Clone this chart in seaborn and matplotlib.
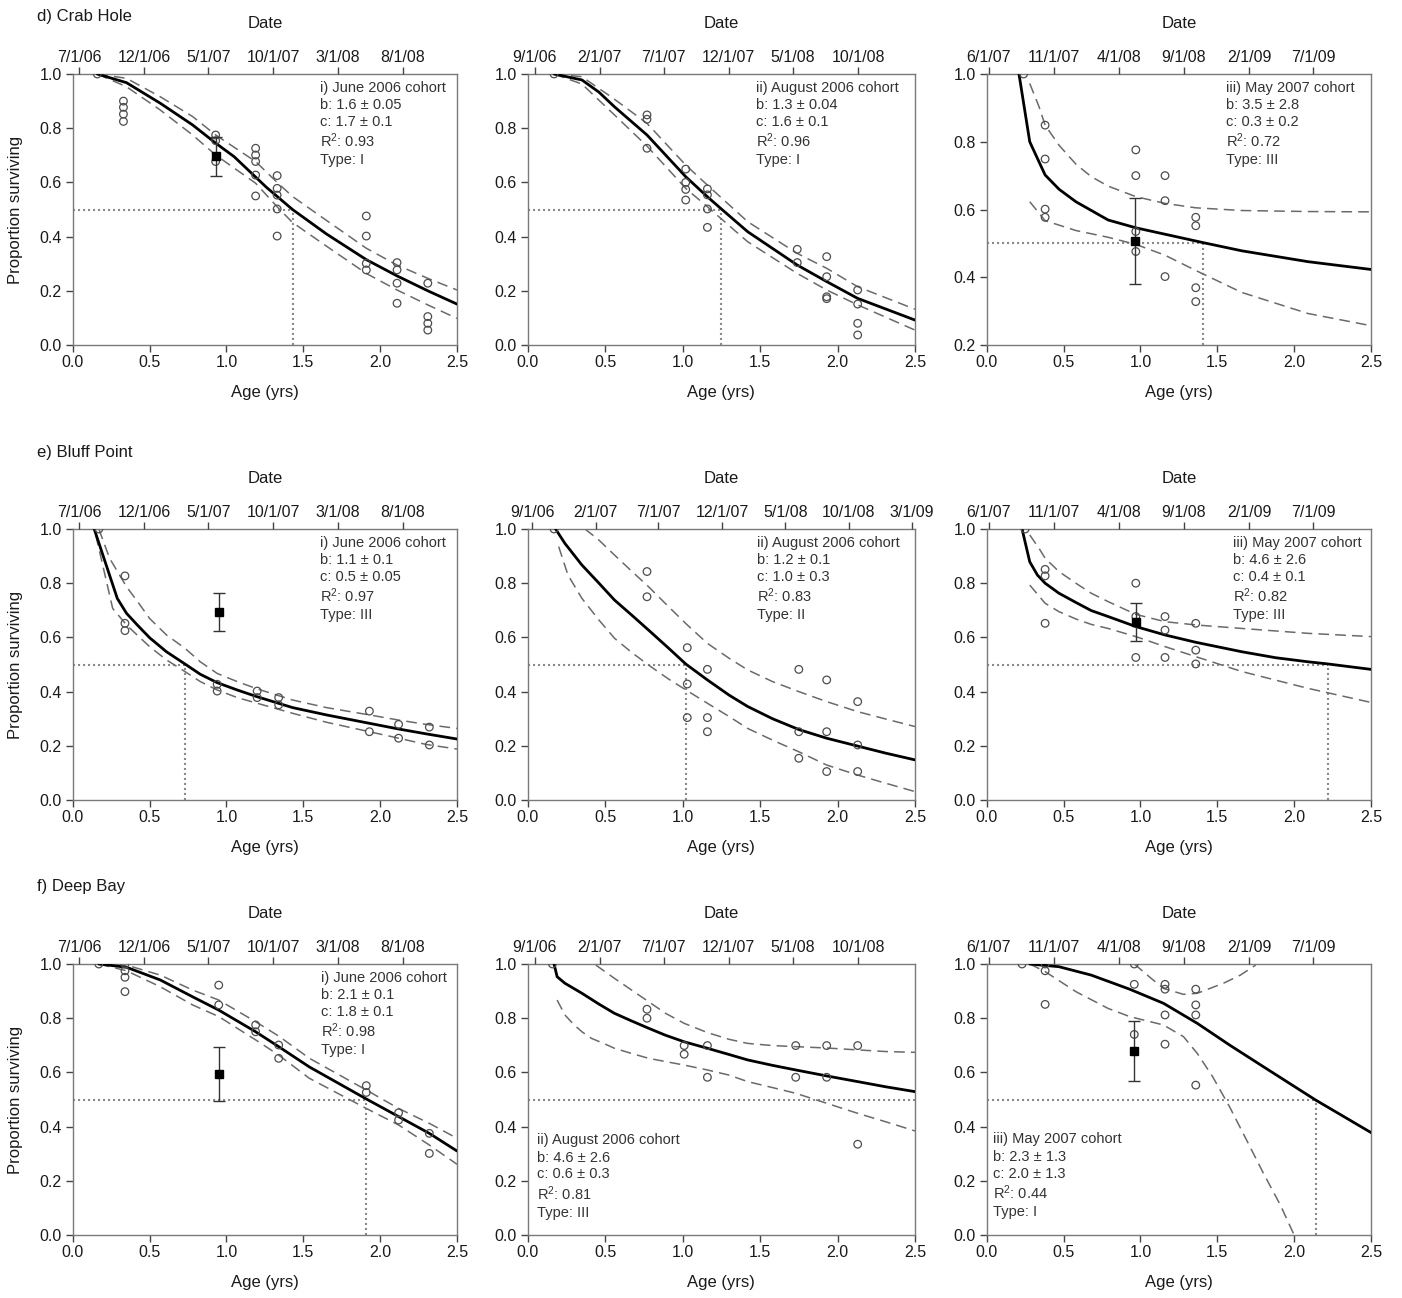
import pandas as pd
import matplotlib
matplotlib.use("Agg")
import matplotlib.pyplot as plt
import matplotlib.dates as mdates
import seaborn as sns

# ---------------- data ----------------
# d) Crab Hole -- i) June 2006 cohort
d1_obs_age = [0.16, 0.33, 0.33, 0.33, 0.33, 0.93, 0.93, 0.93, 1.19, 1.19, 1.19, 1.19, 1.19,
              1.33, 1.33, 1.33, 1.33, 1.33, 1.91, 1.91, 1.91, 1.91, 2.11, 2.11, 2.11, 2.11,
              2.31, 2.31, 2.31, 2.31]
d1_obs_surv = [1.0, 0.90, 0.877, 0.852, 0.825, 0.775, 0.754, 0.677, 0.726, 0.701, 0.677, 0.627, 0.55,
               0.625, 0.578, 0.553, 0.502, 0.402, 0.476, 0.402, 0.301, 0.277, 0.304, 0.277, 0.228, 0.154,
               0.228, 0.105, 0.08, 0.055]
d1_fit_age = [0.16, 0.35, 0.57, 0.78, 0.93, 1.05, 1.26, 1.43, 1.65, 1.91, 2.11, 2.31, 2.5]
d1_fit_surv = [1.0, 0.968, 0.892, 0.812, 0.745, 0.695, 0.582, 0.50, 0.41, 0.315, 0.255, 0.20, 0.151]
d1_ci_age = [0.16, 0.35, 0.57, 0.78, 0.93, 1.19, 1.33, 1.43, 1.65, 1.91, 2.11, 2.31, 2.5]
d1_hi_surv = [1.0, 0.984, 0.916, 0.843, 0.775, 0.677, 0.60, 0.548, 0.46, 0.357, 0.295, 0.246, 0.203]
d1_lo_surv = [1.0, 0.953, 0.867, 0.775, 0.701, 0.597, 0.51, 0.452, 0.365, 0.264, 0.203, 0.148, 0.098]
d1_mean = (0.93, 0.697, 0.072)
d1_half = 1.43
d1_note = ["i) June 2006 cohort", "b: 1.6 ± 0.05", "c: 1.7 ± 0.1", "R$^2$: 0.93", "Type: I"]

# d) Crab Hole -- ii) August 2006 cohort
d2_obs_age = [0.17, 0.77, 0.77, 0.77, 1.02, 1.02, 1.02, 1.02, 1.16, 1.16, 1.16, 1.16,
              1.74, 1.74, 1.93, 1.93, 1.93, 1.93, 2.13, 2.13, 2.13, 2.13]
d2_obs_surv = [1.0, 0.849, 0.833, 0.726, 0.649, 0.60, 0.574, 0.535, 0.576, 0.554, 0.502, 0.434,
               0.353, 0.304, 0.326, 0.252, 0.178, 0.171, 0.203, 0.151, 0.08, 0.037]
d2_fit_age = [0.17, 0.35, 0.46, 0.56, 0.77, 1.02, 1.16, 1.25, 1.42, 1.74, 1.93, 2.13, 2.5]
d2_fit_surv = [1.0, 0.978, 0.933, 0.879, 0.775, 0.621, 0.547, 0.502, 0.418, 0.295, 0.234, 0.172, 0.092]
d2_ci_age = [0.17, 0.35, 0.56, 0.77, 1.02, 1.16, 1.42, 1.74, 1.93, 2.13, 2.5]
d2_hi_surv = [1.0, 0.99, 0.907, 0.818, 0.664, 0.59, 0.455, 0.338, 0.283, 0.215, 0.132]
d2_lo_surv = [1.0, 0.963, 0.849, 0.734, 0.578, 0.51, 0.381, 0.264, 0.203, 0.148, 0.055]
d2_half = 1.25
d2_note = ["ii) August 2006 cohort", "b: 1.3 ± 0.04", "c: 1.6 ± 0.1", "R$^2$: 0.96", "Type: I"]

# d) Crab Hole -- iii) May 2007 cohort
d3_obs_age = [0.24, 0.38, 0.38, 0.38, 0.38, 0.97, 0.97, 0.97, 0.97, 1.16, 1.16, 1.16,
              1.36, 1.36, 1.36, 1.36]
d3_obs_surv = [1.0, 0.849, 0.749, 0.601, 0.577, 0.776, 0.70, 0.535, 0.476, 0.70, 0.626, 0.402,
               0.577, 0.552, 0.369, 0.328]
d3_fit_age = [0.21, 0.28, 0.34, 0.38, 0.47, 0.58, 0.79, 0.97, 1.16, 1.41, 1.66, 2.09, 2.5]
d3_fit_surv = [1.0, 0.80, 0.741, 0.702, 0.66, 0.623, 0.569, 0.546, 0.527, 0.502, 0.478, 0.446, 0.423]
d3_hi_age = [0.28, 0.34, 0.38, 0.47, 0.58, 0.68, 0.79, 0.97, 1.16, 1.36, 1.66, 2.09, 2.5]
d3_hi_surv = [0.972, 0.904, 0.849, 0.79, 0.734, 0.697, 0.669, 0.638, 0.618, 0.605, 0.597, 0.594, 0.593]
d3_lo_age = [0.28, 0.38, 0.58, 0.79, 0.97, 1.16, 1.36, 1.66, 2.09, 2.5]
d3_lo_surv = [0.623, 0.567, 0.538, 0.518, 0.497, 0.465, 0.42, 0.355, 0.293, 0.257]
d3_mean = (0.965, 0.507, 0.126)
d3_half = 1.41
d3_note = ["iii) May 2007 cohort", "b: 3.5 ± 2.8", "c: 0.3 ± 0.2", "R$^2$: 0.72", "Type: III"]

# e) Bluff Point -- i) June 2006 cohort
e1_obs_age = [0.17, 0.34, 0.34, 0.34, 0.94, 0.94, 1.2, 1.2, 1.34, 1.34, 1.93, 1.93, 2.12, 2.12, 2.32, 2.32]
e1_obs_surv = [1.0, 0.827, 0.652, 0.625, 0.427, 0.402, 0.402, 0.378, 0.378, 0.351, 0.328, 0.252,
               0.279, 0.228, 0.269, 0.203]
e1_fit_age = [0.14, 0.29, 0.35, 0.42, 0.5, 0.61, 0.73, 0.83, 0.94, 1.07, 1.2, 1.43, 1.65, 1.93, 2.12, 2.3, 2.5]
e1_fit_surv = [1.0, 0.744, 0.689, 0.646, 0.599, 0.547, 0.502, 0.464, 0.433, 0.406, 0.381, 0.341, 0.314,
               0.283, 0.262, 0.244, 0.225]
e1_hi_age = [0.17, 0.24, 0.35, 0.43, 0.5, 0.61, 0.73, 0.83, 0.94, 1.07, 1.2, 1.43, 1.65, 1.93, 2.12, 2.3, 2.5]
e1_hi_surv = [1.0, 0.892, 0.787, 0.726, 0.67, 0.609, 0.56, 0.51, 0.467, 0.437, 0.41, 0.369, 0.341, 0.314,
              0.295, 0.279, 0.264]
e1_lo_age = [0.15, 0.26, 0.35, 0.43, 0.5, 0.61, 0.73, 0.83, 0.94, 1.07, 1.2, 1.43, 1.65, 1.93, 2.12, 2.3, 2.5]
e1_lo_surv = [0.978, 0.707, 0.646, 0.603, 0.566, 0.517, 0.474, 0.437, 0.406, 0.378, 0.357, 0.32, 0.287,
              0.252, 0.228, 0.205, 0.188]
e1_mean = (0.95, 0.695, 0.07)
e1_half = 0.73
e1_note = ["i) June 2006 cohort", "b: 1.1 ± 0.1", "c: 0.5 ± 0.05", "R$^2$: 0.97", "Type: III"]

# e) Bluff Point -- ii) August 2006 cohort
e2_obs_age = [0.17, 0.77, 0.77, 1.03, 1.03, 1.03, 1.16, 1.16, 1.16, 1.75, 1.75, 1.75,
              1.93, 1.93, 1.93, 2.13, 2.13, 2.13]
e2_obs_surv = [1.0, 0.843, 0.75, 0.562, 0.428, 0.304, 0.482, 0.304, 0.252, 0.482, 0.252, 0.154,
               0.443, 0.252, 0.105, 0.363, 0.203, 0.105]
e2_fit_age = [0.18, 0.24, 0.35, 0.46, 0.56, 0.67, 0.78, 0.91, 1.02, 1.16, 1.3, 1.42, 1.58, 1.75, 1.93,
              2.13, 2.31, 2.5]
e2_fit_surv = [1.0, 0.947, 0.867, 0.80, 0.738, 0.683, 0.627, 0.56, 0.502, 0.443, 0.387, 0.345, 0.30,
               0.26, 0.228, 0.199, 0.173, 0.148]
e2_hi_age = [0.37, 0.46, 0.56, 0.67, 0.78, 0.91, 1.03, 1.16, 1.3, 1.42, 1.58, 1.75, 1.93, 2.13, 2.31, 2.5]
e2_hi_surv = [1.0, 0.959, 0.904, 0.845, 0.787, 0.713, 0.646, 0.578, 0.523, 0.48, 0.437, 0.40, 0.363,
              0.326, 0.299, 0.271]
e2_lo_age = [0.2, 0.26, 0.35, 0.46, 0.56, 0.67, 0.78, 0.91, 1.03, 1.16, 1.3, 1.42, 1.58, 1.75, 1.93,
             2.13, 2.31, 2.5]
e2_lo_surv = [0.935, 0.83, 0.744, 0.664, 0.597, 0.545, 0.498, 0.446, 0.403, 0.357, 0.308, 0.264, 0.221,
              0.178, 0.129, 0.092, 0.062, 0.031]
e2_half = 1.02
e2_note = ["ii) August 2006 cohort", "b: 1.2 ± 0.1", "c: 1.0 ± 0.3", "R$^2$: 0.83", "Type: II"]

# e) Bluff Point -- iii) May 2007 cohort
e3_obs_age = [0.25, 0.38, 0.38, 0.38, 0.97, 0.97, 0.97, 1.16, 1.16, 1.16, 1.36, 1.36, 1.36]
e3_obs_surv = [1.0, 0.851, 0.827, 0.652, 0.80, 0.677, 0.526, 0.677, 0.627, 0.526, 0.652, 0.553, 0.502]
e3_fit_age = [0.23, 0.28, 0.33, 0.38, 0.47, 0.58, 0.68, 0.79, 0.97, 1.16, 1.36, 1.66, 1.88, 2.09, 2.22, 2.5]
e3_fit_surv = [1.0, 0.879, 0.83, 0.80, 0.763, 0.729, 0.699, 0.677, 0.64, 0.609, 0.582, 0.547, 0.525,
               0.51, 0.502, 0.482]
e3_hi_age = [0.28, 0.34, 0.38, 0.47, 0.58, 0.68, 0.79, 0.97, 1.16, 1.36, 1.66, 2.09, 2.5]
e3_hi_surv = [0.978, 0.929, 0.892, 0.843, 0.80, 0.763, 0.732, 0.685, 0.658, 0.646, 0.633, 0.615, 0.603]
e3_lo_age = [0.28, 0.38, 0.47, 0.58, 0.68, 0.79, 0.97, 1.16, 1.36, 1.66, 2.09, 2.5]
e3_lo_surv = [0.793, 0.726, 0.695, 0.668, 0.648, 0.633, 0.603, 0.566, 0.529, 0.474, 0.412, 0.36]
e3_mean = (0.97, 0.656, 0.071)
e3_half = 2.22
e3_note = ["iii) May 2007 cohort", "b: 4.6 ± 2.6", "c: 0.4 ± 0.1", "R$^2$: 0.82", "Type: III"]

# f) Deep Bay -- i) June 2006 cohort
f1_obs_age = [0.17, 0.34, 0.34, 0.34, 0.34, 0.95, 0.95, 1.19, 1.19, 1.34, 1.34, 1.91, 1.91,
              2.12, 2.12, 2.32, 2.32]
f1_obs_surv = [1.0, 1.0, 0.975, 0.951, 0.898, 0.922, 0.849, 0.775, 0.75, 0.701, 0.652, 0.551, 0.526,
               0.451, 0.424, 0.375, 0.301]
f1_fit_age = [0.17, 0.35, 0.57, 0.78, 0.95, 1.19, 1.34, 1.54, 1.91, 2.12, 2.32, 2.5]
f1_fit_surv = [1.0, 0.988, 0.941, 0.879, 0.83, 0.75, 0.695, 0.62, 0.502, 0.437, 0.375, 0.31]
f1_hi_surv = [1.0, 0.996, 0.959, 0.904, 0.867, 0.787, 0.734, 0.652, 0.535, 0.467, 0.412, 0.357]
f1_lo_surv = [1.0, 0.975, 0.916, 0.849, 0.806, 0.72, 0.664, 0.578, 0.467, 0.406, 0.332, 0.261]
f1_mean = (0.95, 0.593, 0.099)
f1_half = 1.91
f1_note = ["i) June 2006 cohort", "b: 2.1 ± 0.1", "c: 1.8 ± 0.1", "R$^2$: 0.98", "Type: I"]

# f) Deep Bay -- ii) August 2006 cohort
f2_obs_age = [0.16, 0.77, 0.77, 1.01, 1.01, 1.16, 1.16, 1.73, 1.73, 1.93, 1.93, 2.13, 2.13]
f2_obs_surv = [1.0, 0.833, 0.80, 0.699, 0.667, 0.699, 0.582, 0.699, 0.582, 0.699, 0.582, 0.699, 0.335]
f2_fit_age = [0.17, 0.19, 0.24, 0.35, 0.46, 0.56, 0.67, 0.78, 0.89, 1.01, 1.16, 1.3, 1.42, 1.58, 1.73,
              1.93, 2.13, 2.31, 2.5]
f2_fit_surv = [1.0, 0.953, 0.929, 0.892, 0.852, 0.818, 0.79, 0.763, 0.737, 0.713, 0.689, 0.666, 0.646,
               0.626, 0.609, 0.587, 0.566, 0.547, 0.529]
f2_hi_age = [0.44, 0.56, 0.67, 0.78, 0.89, 1.01, 1.16, 1.3, 1.42, 1.58, 1.73, 1.93, 2.13, 2.31, 2.5]
f2_hi_surv = [0.996, 0.947, 0.904, 0.861, 0.818, 0.781, 0.747, 0.722, 0.707, 0.699, 0.695, 0.69, 0.683,
              0.677, 0.674]
f2_lo_age = [0.19, 0.24, 0.3, 0.35, 0.41, 0.49, 0.56, 0.67, 0.78, 0.89, 1.01, 1.16, 1.3, 1.42, 1.58,
             1.73, 1.93, 2.13, 2.31, 2.5]
f2_lo_surv = [0.867, 0.812, 0.775, 0.75, 0.726, 0.707, 0.689, 0.67, 0.652, 0.64, 0.627, 0.609, 0.59,
              0.566, 0.544, 0.523, 0.486, 0.449, 0.418, 0.384]
f2_half = None
f2_note = ["ii) August 2006 cohort", "b: 4.6 ± 2.6", "c: 0.6 ± 0.3", "R$^2$: 0.81", "Type: III"]

# f) Deep Bay -- iii) May 2007 cohort
f3_obs_age = [0.23, 0.38, 0.38, 0.38, 0.96, 0.96, 0.96, 1.16, 1.16, 1.16, 1.16, 1.36, 1.36, 1.36, 1.36]
f3_obs_surv = [1.0, 1.0, 0.975, 0.851, 1.0, 0.925, 0.74, 0.925, 0.907, 0.812, 0.704, 0.907, 0.849,
               0.812, 0.553]
f3_fit_age = [0.28, 0.47, 0.68, 0.93, 1.15, 1.37, 1.58, 1.80, 2.14, 2.5]
f3_fit_surv = [1.0, 0.99, 0.959, 0.907, 0.855, 0.781, 0.701, 0.621, 0.498, 0.378]
f3_hi_age = [0.96, 1.07, 1.15, 1.28, 1.37, 1.54, 1.65, 1.75]
f3_hi_surv = [1.0, 0.947, 0.91, 0.888, 0.892, 0.929, 0.959, 0.996]
f3_lo_age = [0.28, 0.38, 0.58, 0.79, 0.93, 1.15, 1.28, 1.37, 1.47, 1.58, 1.69, 1.80, 1.91, 2.0]
f3_lo_surv = [1.0, 0.972, 0.898, 0.836, 0.806, 0.775, 0.732, 0.67, 0.584, 0.473, 0.351, 0.228, 0.111, 0.0]
f3_mean = (0.96, 0.679, 0.11)
f3_half = 2.14
f3_note = ["iii) May 2007 cohort", "b: 2.3 ± 1.3", "c: 2.0 ± 1.3", "R$^2$: 0.44", "Type: I"]

# calendar (top) axes
jun06_dates = ["7/1/06", "12/1/06", "5/1/07", "10/1/07", "3/1/08", "8/1/08"]
aug06_dates = ["9/1/06", "2/1/07", "7/1/07", "12/1/07", "5/1/08", "10/1/08"]
aug06_dates_long = ["9/1/06", "2/1/07", "7/1/07", "12/1/07", "5/1/08", "10/1/08", "3/1/09"]
may07_dates = ["6/1/07", "11/1/07", "4/1/08", "9/1/08", "2/1/09", "7/1/09"]
jun06_span = ("2006-06-15", "2008-12-07")
aug06_span = ("2006-08-15", "2009-02-12")
aug06_span_long = ("2006-08-21", "2009-03-09")
may07_span = ("2007-05-27", "2009-11-14")

site_titles = ["d) Crab Hole", "e) Bluff Point", "f) Deep Bay"]
x_ticks = [0.0, 0.5, 1.0, 1.5, 2.0, 2.5]

# ---------------- assemble panels ----------------
panels = [
    dict(obs=(d1_obs_age, d1_obs_surv), fit=(d1_fit_age, d1_fit_surv), hi=(d1_ci_age, d1_hi_surv),
         lo=(d1_ci_age, d1_lo_surv), mean=d1_mean, half=d1_half, note=d1_note,
         dates=jun06_dates, span=jun06_span, ylim=(0.0, 1.0)),
    dict(obs=(d2_obs_age, d2_obs_surv), fit=(d2_fit_age, d2_fit_surv), hi=(d2_ci_age, d2_hi_surv),
         lo=(d2_ci_age, d2_lo_surv), mean=None, half=d2_half, note=d2_note,
         dates=aug06_dates, span=aug06_span, ylim=(0.0, 1.0)),
    dict(obs=(d3_obs_age, d3_obs_surv), fit=(d3_fit_age, d3_fit_surv), hi=(d3_hi_age, d3_hi_surv),
         lo=(d3_lo_age, d3_lo_surv), mean=d3_mean, half=d3_half, note=d3_note,
         dates=may07_dates, span=may07_span, ylim=(0.2, 1.0)),
    dict(obs=(e1_obs_age, e1_obs_surv), fit=(e1_fit_age, e1_fit_surv), hi=(e1_hi_age, e1_hi_surv),
         lo=(e1_lo_age, e1_lo_surv), mean=e1_mean, half=e1_half, note=e1_note,
         dates=jun06_dates, span=jun06_span, ylim=(0.0, 1.0)),
    dict(obs=(e2_obs_age, e2_obs_surv), fit=(e2_fit_age, e2_fit_surv), hi=(e2_hi_age, e2_hi_surv),
         lo=(e2_lo_age, e2_lo_surv), mean=None, half=e2_half, note=e2_note,
         dates=aug06_dates_long, span=aug06_span_long, ylim=(0.0, 1.0)),
    dict(obs=(e3_obs_age, e3_obs_surv), fit=(e3_fit_age, e3_fit_surv), hi=(e3_hi_age, e3_hi_surv),
         lo=(e3_lo_age, e3_lo_surv), mean=e3_mean, half=e3_half, note=e3_note,
         dates=may07_dates, span=may07_span, ylim=(0.0, 1.0)),
    dict(obs=(f1_obs_age, f1_obs_surv), fit=(f1_fit_age, f1_fit_surv), hi=(f1_fit_age, f1_hi_surv),
         lo=(f1_fit_age, f1_lo_surv), mean=f1_mean, half=f1_half, note=f1_note,
         dates=jun06_dates, span=jun06_span, ylim=(0.0, 1.0)),
    dict(obs=(f2_obs_age, f2_obs_surv), fit=(f2_fit_age, f2_fit_surv), hi=(f2_hi_age, f2_hi_surv),
         lo=(f2_lo_age, f2_lo_surv), mean=None, half=f2_half, note=f2_note,
         dates=aug06_dates, span=aug06_span, ylim=(0.0, 1.0)),
    dict(obs=(f3_obs_age, f3_obs_surv), fit=(f3_fit_age, f3_fit_surv), hi=(f3_hi_age, f3_hi_surv),
         lo=(f3_lo_age, f3_lo_surv), mean=f3_mean, half=f3_half, note=f3_note,
         dates=may07_dates, span=may07_span, ylim=(0.0, 1.0)),
]

# note placement (axes fraction: left x, first baseline y)
note_pos = [(0.643, 0.935), (0.589, 0.935), (0.622, 0.935),
            (0.643, 0.935), (0.591, 0.935), (0.642, 0.935),
            (0.647, 0.935), (0.023, 0.335), (0.017, 0.338)]
note_steps = [0.0, 0.064, 0.126, 0.206, 0.268]

# ---------------- style ----------------
sns.set_theme(style="ticks")
plt.rcParams["font.family"] = ["Liberation Sans", "DejaVu Sans"]
plt.rcParams["mathtext.fontset"] = "custom"
plt.rcParams["mathtext.rm"] = "Liberation Sans"
plt.rcParams["mathtext.default"] = "regular"
SPINE = "#7a7a7a"
TXT = "#1a1a1a"

W_FIG, H_FIG = 1402, 1298
fig = plt.figure(figsize=(W_FIG / 100, H_FIG / 100), dpi=100)
fig.patch.set_facecolor("white")

col_left = [72.7, 527.7, 986.7]
col_width = [384.3, 387.3, 384.3]
row_top = [74, 529, 964]
AX_H = 271

for k, p in enumerate(panels):
    r, c = divmod(k, 3)
    rect = [col_left[c] / W_FIG, 1 - (row_top[r] + AX_H) / H_FIG, col_width[c] / W_FIG, AX_H / H_FIG]
    ax = fig.add_axes(rect)
    ax.set_facecolor("white")
    y0, y1 = p["ylim"]

    # half-survival reference lines
    xh = p["half"] if p["half"] is not None else 2.5
    ax.plot([0, xh], [0.5, 0.5], color="#8a8a8a", lw=1.5, linestyle=(0, (1, 1.4)), zorder=1)
    if p["half"] is not None:
        ax.plot([xh, xh], [y0, 0.5], color="#8a8a8a", lw=1.5, linestyle=(0, (1, 1.4)), zorder=1)

    # confidence bands (dashed) and fit (solid)
    for key in ("hi", "lo"):
        sns.lineplot(x=p[key][0], y=p[key][1], ax=ax, color="#6a6a6a", lw=1.1,
                     linestyle=(0, (7, 4)), estimator=None, sort=False, zorder=2)
    sns.lineplot(x=p["fit"][0], y=p["fit"][1], ax=ax, color="black", lw=2.0,
                 estimator=None, sort=False, zorder=3)

    # observations
    sns.scatterplot(x=p["obs"][0], y=p["obs"][1], ax=ax, marker="o", s=30,
                    facecolor="none", edgecolor="#4d4d4d", linewidth=0.9, zorder=4)

    # mean +- error
    if p["mean"] is not None:
        mx, my, me = p["mean"]
        ax.errorbar([mx], [my], yerr=[me], fmt="s", color="#222222", ms=5.5,
                    mfc="black", mec="black", ecolor="#333333", elinewidth=1.0,
                    capsize=4, capthick=1.0, zorder=5)

    # annotation
    nx, ny = note_pos[k]
    for line, dy in zip(p["note"], note_steps):
        ax.text(nx, ny - dy, line, transform=ax.transAxes, ha="left", va="baseline",
                fontsize=10.5, color="#333333")

    ax.set_xlim(0, 2.5)
    ax.set_ylim(y0, y1)
    ax.set_xticks(x_ticks)
    ax.set_xticklabels([f"{v:.1f}" for v in x_ticks])
    yt = [round(y0 + 0.2 * i, 1) for i in range(int(round((y1 - y0) / 0.2)) + 1)]
    ax.set_yticks(yt)
    ax.set_yticklabels([f"{v:.1f}" for v in yt])
    ax.tick_params(axis="both", direction="out", length=5, width=1, color="#444444",
                   labelsize=11.5, labelcolor=TXT, top=False, right=False)
    ax.tick_params(axis="x", pad=2)
    ax.tick_params(axis="y", pad=3)
    for s in ax.spines.values():
        s.set_visible(True)
        s.set_color(SPINE)
        s.set_linewidth(1.0)

    ax.set_xlabel("Age (yrs)", fontsize=12, color=TXT)
    ax.xaxis.label.set_va("center")
    ax.xaxis.set_label_coords(0.5, -0.177)
    if c == 0:
        ax.set_ylabel("Proportion surviving", fontsize=12, color=TXT)
        ax.yaxis.label.set_va("center")
        ax.yaxis.set_label_coords(-56.7 / col_width[c], 0.5)
    else:
        ax.set_ylabel("")

    # calendar axis on top
    ax2 = ax.twiny()
    d0, d1 = (mdates.date2num(pd.Timestamp(s)) for s in p["span"])
    ax2.set_xlim(d0, d1)
    tick_nums = [mdates.date2num(pd.to_datetime(s, format="%m/%d/%y")) for s in p["dates"]]
    ax2.set_xticks(tick_nums)
    ax2.set_xticklabels(p["dates"])
    ax2.tick_params(axis="x", direction="out", length=5, width=1, color="#444444",
                    labelsize=11.5, labelcolor=TXT, pad=1.2)
    for s in ax2.spines.values():
        s.set_visible(False)
    ax2.set_xlabel("Date", fontsize=12, color=TXT)
    ax2.xaxis.label.set_va("center")
    ax2.xaxis.set_label_coords(0.5, 1.185)

for r, title in enumerate(site_titles):
    fig.text(37 / W_FIG, 1 - [16, 452, 887][r] / H_FIG, title, ha="left", va="center",
             fontsize=12, color=TXT)

fig.savefig("out.png", dpi=100, facecolor="white")
